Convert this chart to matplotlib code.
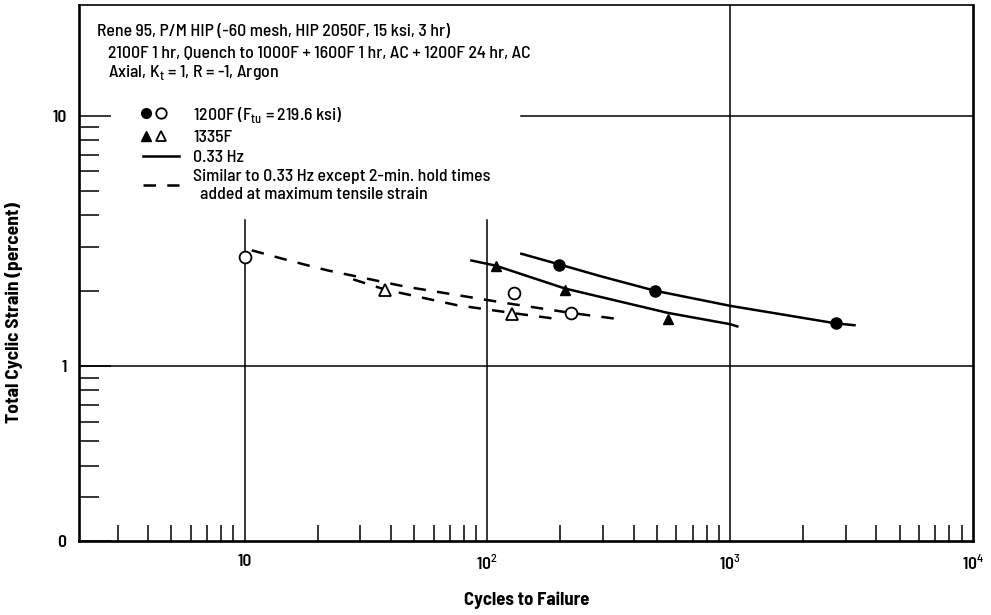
import numpy as np
import matplotlib
matplotlib.use('Agg')
import matplotlib.pyplot as plt
from matplotlib.lines import Line2D
from matplotlib.legend_handler import HandlerTuple
from matplotlib.ticker import FixedLocator, FixedFormatter, NullFormatter

plt.rcParams['font.family'] = ['Barlow Semi Condensed', 'Liberation Sans Narrow', 'DejaVu Sans']
plt.rcParams['font.weight'] = 500
plt.rcParams['mathtext.fontset'] = 'custom'
plt.rcParams['mathtext.rm'] = 'Barlow Semi Condensed:medium'

# test points (cycles, total strain %)
n_1200 = [197, 490, 2735]          # 1200F, 0.33 Hz
e_1200 = [2.54, 1.99, 1.48]
n_1335 = [108, 209, 555]           # 1335F, 0.33 Hz
e_1335 = [2.51, 2.01, 1.54]
n_1200h = [10, 129, 221]           # 1200F, hold times
e_1200h = [2.72, 1.96, 1.63]
n_1335h = [38, 126]                # 1335F, hold times
e_1335h = [2.01, 1.61]

# faired curves
c1200_n = [138, 197, 295, 490, 1000, 2735, 3250]
c1200_e = [2.81, 2.55, 2.28, 2.0, 1.74, 1.48, 1.456]
c1335_n = [86, 108, 209, 555, 1000, 1070]
c1335_e = [2.64, 2.52, 2.04, 1.63, 1.47, 1.44]
c1200h_n = [10.7, 14, 17.5, 22, 45.5, 117, 221, 357]
c1200h_e = [2.90, 2.70, 2.55, 2.41, 2.08, 1.79, 1.63, 1.535]
c1335h_n = [28, 38, 75, 126, 186]
c1335h_e = [2.22, 2.02, 1.75, 1.63, 1.55]

x_ticks = [10, 100, 1000, 10000]
x_ticklabels = ['10', r'10$^{2}$', r'10$^{3}$', r'10$^{4}$']
y_ticks = [0.2, 1, 10]
y_ticklabels = ['0', '1', '10']

fig = plt.figure(figsize=(9.91, 6.15), dpi=100)
ax = fig.add_axes([79/991, 1-541/615, 894/991, 536/615])
ax.set_xscale('log')
ax.set_yscale('log')
ax.set_xlim(2.08, 1e4)
ax.set_ylim(0.2, 27.7)

# grid lines (broken behind the notes block)
ax.axhline(1, color='k', lw=1.1, zorder=1)
ax.axhline(10, xmin=0.494, color='k', lw=1.1, zorder=1)
ax.axvline(10, ymax=0.599, color='k', lw=1.1, zorder=1)
ax.axvline(100, ymax=0.599, color='k', lw=1.1, zorder=1)
ax.axvline(1000, color='k', lw=1.1, zorder=1)

lw = 1.8
ax.plot(c1200_n, c1200_e, color='k', lw=lw)
ax.plot(c1335_n, c1335_e, color='k', lw=lw)
ax.plot(c1200h_n, c1200h_e, color='k', lw=lw, dashes=(5, 4.5))
ax.plot(c1335h_n, c1335h_e, color='k', lw=lw, dashes=(5, 4.5))

ax.plot(n_1200, e_1200, 'o', color='k', ms=8, zorder=4)
ax.plot(n_1335, e_1335, '^', color='k', ms=7.5, zorder=4)
ax.plot(n_1200h, e_1200h, 'o', mfc='w', mec='k', mew=1.3, ms=8.5, zorder=4)
ax.plot(n_1335h, e_1335h, '^', mfc='w', mec='k', mew=1.3, ms=8, zorder=4)

# ticks
ax.xaxis.set_major_locator(FixedLocator(x_ticks))
ax.xaxis.set_major_formatter(FixedFormatter(x_ticklabels))
ax.xaxis.set_minor_locator(FixedLocator([m * d for d in [1, 10, 100, 1000] for m in range(2, 10)]))
ax.xaxis.set_minor_formatter(NullFormatter())
ax.yaxis.set_major_locator(FixedLocator(y_ticks))
ax.yaxis.set_major_formatter(FixedFormatter(y_ticklabels))
ax.yaxis.set_minor_locator(FixedLocator([0.3, 0.4, 0.5, 0.6, 0.7, 0.8, 0.9, 2, 3, 4, 5, 6, 7, 8, 9]))
ax.yaxis.set_minor_formatter(NullFormatter())
ax.tick_params(axis='x', which='major', direction='in', length=0, pad=9, labelsize=12.5)
ax.tick_params(axis='x', which='minor', direction='in', length=11.5, width=1.1)
ax.tick_params(axis='y', which='major', direction='in', length=23, width=1.1, pad=9, labelsize=12.5)
ax.tick_params(axis='y', which='minor', direction='in', length=14.5, width=1.1)
for t in ax.get_xticklabels() + ax.get_yticklabels():
    t.set_fontweight('semibold')

for s in ['left', 'bottom', 'right']:
    ax.spines[s].set_linewidth(1.9)
ax.spines['top'].set_linewidth(1.2)

# notes block
fs = 12.8
fig.text(97/991, 1-32/615, 'Rene 95, P/M HIP (-60 mesh, HIP 2050F, 15 ksi, 3 hr)', fontsize=fs, va='center')
fig.text(108/991, 1-53/615, '2100F 1 hr, Quench to 1000F + 1600F 1 hr, AC + 1200F 24 hr, AC', fontsize=fs, va='center')
fig.text(108/991, 1-72/615, r'Axial, K$_{\rm t}$ = 1, R = -1, Argon', fontsize=fs, va='center')

h_circ = (Line2D([], [], ls='none', marker='o', color='k', ms=7),
          Line2D([], [], ls='none', marker='o', mfc='w', mec='k', mew=1.3, ms=7.5))
h_tri = (Line2D([], [], ls='none', marker='^', color='k', ms=7),
         Line2D([], [], ls='none', marker='^', mfc='w', mec='k', mew=1.3, ms=7.5))
h_solid = Line2D([], [], color='k', lw=lw)
h_dash = Line2D([], [], color='k', lw=lw, dashes=(5, 4.5))
labels = [r'1200F (F$_{\rm tu}$ = 219.6 ksi)', '1335F', '0.33 Hz',
          'Similar to 0.33 Hz except 2-min. hold times\n  added at maximum tensile strain']
ax.legend([h_circ, h_tri, h_solid, h_dash], labels,
          handler_map={tuple: HandlerTuple(ndivide=3, pad=0.6)},
          loc='upper left', bbox_to_anchor=(0.072, 0.814), frameon=False,
          borderpad=0, borderaxespad=0, handlelength=2.0, handletextpad=0.8,
          labelspacing=0.26, fontsize=fs)

fig.text(527/991, 1-600/615, 'Cycles to Failure', fontsize=13.5, fontweight='bold', ha='center', va='center')
fig.text(14/991, 1-313/615, 'Total Cyclic Strain (percent)', fontsize=14, fontweight='bold',
         rotation=90, ha='center', va='center')

fig.savefig('out.png', dpi=100)
